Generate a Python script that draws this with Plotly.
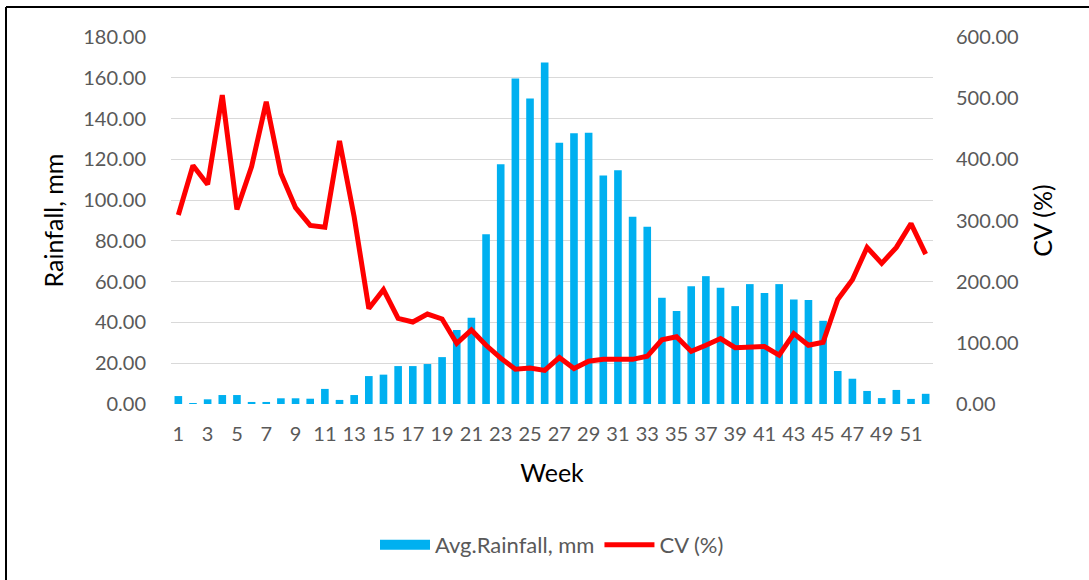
import plotly.graph_objects as go

weeks = list(range(1, 53))

avg_rainfall = [
    3.9, 0.3, 2.3, 4.4, 4.4, 1.0, 1.0, 2.8, 2.8, 2.6,
    7.4, 2.0, 4.4, 13.7, 14.4, 18.6, 18.6, 19.6, 23.0, 36.3,
    42.3, 83.3, 117.6, 159.6, 149.8, 167.5, 128.1, 132.8, 133.0, 112.1,
    114.7, 91.8, 86.9, 52.1, 45.6, 57.8, 62.7, 57.0, 48.0, 58.8,
    54.4, 58.8, 51.3, 51.0, 40.8, 16.2, 12.4, 6.4, 2.9, 6.9,
    2.5, 5.0,
]

cv_percent = [
    309, 390, 359, 505, 318, 388, 494, 377, 321, 292,
    289, 430, 306, 156, 187, 140, 134, 147, 139, 99,
    121, 96, 75, 57, 59, 55, 76, 58, 70, 73,
    73, 73, 78, 105, 110, 86, 96, 107, 92, 92,
    94, 80, 115, 96, 101, 171, 203, 256, 230, 256,
    295, 245,
]

FONT = "Lato, Carlito, Calibri, sans-serif"
GREY = "#595959"
BLUE = "#00B0F0"
RED = "#FF0000"

fig = go.Figure()

fig.add_trace(go.Bar(
    x=weeks, y=avg_rainfall, name="Avg.Rainfall, mm",
    marker=dict(color=BLUE, line=dict(width=0)),
    yaxis="y", showlegend=False, legendgroup="rain",
))

# wide swatch for the rainfall legend entry
fig.add_trace(go.Scatter(
    x=[None], y=[None], name="Avg.Rainfall, mm", mode="lines",
    line=dict(color=BLUE, width=13), legendgroup="rain",
))

fig.add_trace(go.Scatter(
    x=weeks, y=cv_percent, name="CV (%)", mode="lines",
    line=dict(color=RED, width=5),
    yaxis="y2",
))

# plot area: x 171..933, y 37..404 in a 1089x580 page
L, R, T, B = 171, 156, 37, 176
W, H = 1089 - L - R, 580 - T - B

fig.update_layout(
    width=1089, height=580,
    margin=dict(l=L, r=R, t=T, b=B),
    paper_bgcolor="white", plot_bgcolor="white",
    font=dict(family=FONT, color=GREY, size=20),
    bargap=0.48,
    showlegend=True,
    legend=dict(
        orientation="h", x=0.5, xanchor="center",
        y=-(545 - 404) / H, yanchor="middle",
        font=dict(size=22, color=GREY),
        itemwidth=50, tracegroupgap=0,
    ),
    xaxis=dict(
        range=[0.5, 52.5], tickmode="linear", tick0=1, dtick=2,
        showgrid=False, zeroline=False, showline=False,
        ticks="", ticklabelstandoff=16,
        tickfont=dict(size=20, color=GREY),
        title=dict(text="Week", font=dict(size=25, color="black"), standoff=20),
    ),
    yaxis=dict(
        range=[0, 180], dtick=20, tickformat=".2f",
        showgrid=True, gridcolor="#D9D9D9", gridwidth=1.3,
        zeroline=False, showline=False, ticks="",
        ticklabelstandoff=24,
        tickfont=dict(size=20, color=GREY),
        title=dict(text="Rainfall, mm", font=dict(size=25, color="black"), standoff=12),
    ),
    yaxis2=dict(
        range=[0, 600], dtick=100, tickformat=".2f",
        overlaying="y", side="right",
        showgrid=False, zeroline=False, showline=False, ticks="",
        ticklabelstandoff=22,
        tickfont=dict(size=20, color=GREY),
        title=dict(text="CV (%)", font=dict(size=25, color="black"), standoff=16),
    ),
    shapes=[
        # chart frame: left and top edges
        dict(type="line", xref="paper", yref="paper",
             x0=(6 - L) / W, x1=(6 - L) / W,
             y0=(404 - 7) / H, y1=(404 - 600) / H,
             line=dict(color="black", width=2)),
        dict(type="line", xref="paper", yref="paper",
             x0=(6 - L) / W, x1=(1100 - L) / W,
             y0=(404 - 7) / H, y1=(404 - 7) / H,
             line=dict(color="black", width=2)),
    ],
)

fig.write_html("out.html")
